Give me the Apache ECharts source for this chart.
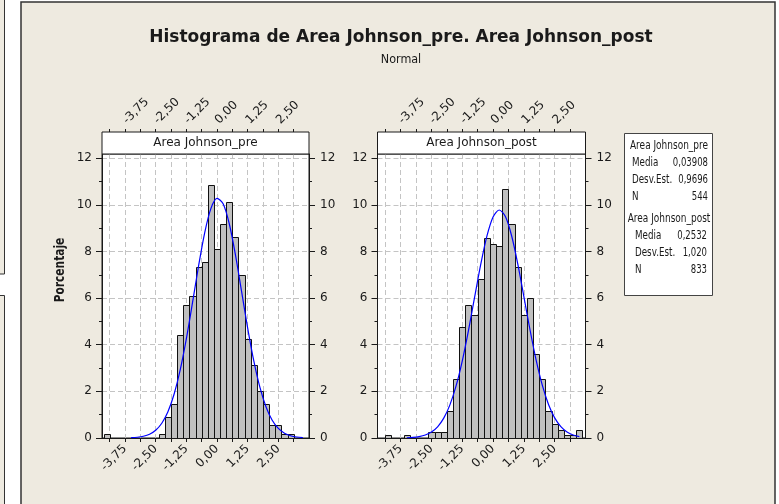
<!DOCTYPE html>
<html><head><meta charset="utf-8">
<script src="https://cdn.jsdelivr.net/npm/echarts@6/dist/echarts.min.js"></script>
<style>html,body{margin:0;padding:0;background:#fff}#c{width:779px;height:504px}</style>
</head><body><div id="c"></div>
<script>
// ---- data ----
const preCenters = [-4.5, -2.25, -2.0, -1.75, -1.5, -1.25, -1.0, -0.75, -0.5, -0.25, 0, 0.25, 0.5, 0.75, 1.0, 1.25, 1.5, 1.75, 2.0, 2.25, 2.5, 2.75, 3.0];
const prePct = [0.18, 0.18, 0.92, 1.47, 4.41, 5.70, 6.07, 7.35, 7.54, 10.85, 8.09, 9.19, 10.11, 8.64, 6.99, 4.23, 3.13, 2.02, 1.47, 0.55, 0.55, 0.18, 0.18];
const postCenters = [-4.25, -3.5, -2.5, -2.25, -2.0, -1.75, -1.5, -1.25, -1.0, -0.75, -0.5, -0.25, 0, 0.25, 0.5, 0.75, 1.0, 1.25, 1.5, 1.75, 2.0, 2.25, 2.5, 2.75, 3.0, 3.25, 3.5];
const postPct = [0.12, 0.12, 0.24, 0.24, 0.24, 1.14, 2.52, 4.74, 5.70, 5.28, 6.84, 8.58, 8.34, 8.22, 10.68, 9.18, 7.32, 5.28, 6.00, 3.60, 2.52, 1.14, 0.60, 0.36, 0.12, 0.12, 0.36];
const curveX = [-3.5, -3.25, -3.0, -2.75, -2.5, -2.25, -2.0, -1.75, -1.5, -1.25, -1.0, -0.75, -0.5, -0.25, 0, 0.25, 0.5, 0.75, 1.0, 1.25, 1.5, 1.75, 2.0, 2.25, 2.5, 2.75, 3.0, 3.25, 3.5];
const preCurve = [0.013, 0.033, 0.076, 0.164, 0.334, 0.634, 1.127, 1.875, 2.918, 4.251, 5.792, 7.387, 8.813, 9.839, 10.278, 10.045, 9.188, 7.862, 6.295, 4.716, 3.306, 2.168, 1.331, 0.764, 0.411, 0.207, 0.097, 0.043, 0.018];
const postCurve = [0.011, 0.027, 0.061, 0.128, 0.256, 0.481, 0.852, 1.421, 2.232, 3.301, 4.597, 6.029, 7.445, 8.657, 9.481, 9.778, 9.495, 8.684, 7.479, 6.065, 4.632, 3.331, 2.257, 1.439, 0.864, 0.489, 0.260, 0.131, 0.062];
const xTickValues = [-4.375, -3.75, -3.125, -2.5, -1.875, -1.25, -0.625, 0, 0.625, 1.25, 1.875, 2.5, 3.125];
const xLabelValues = [-3.75, -2.5, -1.25, 0, 1.25, 2.5];
const yMajorValues = [0, 2, 4, 6, 8, 10, 12];
const yMinorValues = [1, 3, 5, 7, 9, 11];
const panelNames = ['Area Johnson_pre', 'Area Johnson_post'];
const statLabels = ['Media', 'Desv.Est.', 'N'];
const preStats = ['0,03908', '0,9696', '544'];
const postStats = ['0,2532', '1,020', '833'];
const titleText = 'Histograma de Area Johnson_pre. Area Johnson_post';
const subtitleText = 'Normal';
const yName = 'Porcentaje';
const BIN = 0.25;
const XMIN = -4.6875, XMAX = 3.75, YMAX = 12.18;

// ---- layout ----
const FONT = 'DejaVu Sans';
const INK = '#1a1a1a';
const BEIGE = '#EEEAE0';
const grids = [
  {left: 102, top: 154, width: 207, height: 284},
  {left: 377.5, top: 154, width: 208, height: 284}
];
const fmtX = v => Number(v).toFixed(2).replace('.', ',');

const xAxes = [], yAxes = [], series = [];
grids.forEach((g, i) => {
  const labelCommon = {fontFamily: FONT, fontSize: 12, color: INK};
  xAxes.push({
    type: 'value', gridIndex: i, min: XMIN, max: XMAX, position: 'bottom',
    axisLine: {show: true, onZero: false, lineStyle: {color: INK}},
    axisTick: {show: true, customValues: xTickValues, length: 4, lineStyle: {color: INK}},
    axisLabel: Object.assign({customValues: xLabelValues, rotate: 45, margin: 9, formatter: fmtX}, labelCommon),
    splitLine: {show: true, lineStyle: {color: '#c4c4c4', type: [5, 3], width: 1}}
  });
  xAxes.push({
    type: 'value', gridIndex: i, min: XMIN, max: XMAX, position: 'top', offset: 22,
    axisLine: {show: false, onZero: false},
    axisTick: {show: true, customValues: xTickValues, length: 3, lineStyle: {color: INK}},
    axisLabel: Object.assign({customValues: xLabelValues, rotate: -45, margin: 10, formatter: fmtX}, labelCommon),
    splitLine: {show: false}
  });
  ['left', 'right'].forEach((pos, k) => {
    yAxes.push({
      type: 'value', gridIndex: i, min: 0, max: YMAX, interval: 1, position: pos,
      axisLine: {show: true, onZero: false, lineStyle: {color: INK}},
      axisTick: {show: true, customValues: yMajorValues, length: 6, lineStyle: {color: INK}},
      axisLabel: Object.assign({customValues: yMajorValues, margin: k === 0 ? 10 : 11}, labelCommon),
      splitLine: {show: k === 0, lineStyle: {color: '#c4c4c4', type: [5, 3], width: 1}}
    });
    yAxes.push({
      type: 'value', gridIndex: i, min: 0, max: YMAX, interval: 1, position: pos,
      axisLine: {show: false, onZero: false},
      axisTick: {show: true, customValues: yMinorValues, length: 3, lineStyle: {color: INK}},
      axisLabel: {show: false},
      splitLine: {show: false}
    });
  });
});

function barRender(params, api) {
  const c = api.value(0), h = api.value(1);
  const p0 = api.coord([c - BIN / 2, h]);
  const p1 = api.coord([c + BIN / 2, 0]);
  return {
    type: 'rect',
    shape: {x: Math.round(p0[0]) + 0.5, y: Math.round(p0[1]) + 0.5, width: Math.round(p1[0]) - Math.round(p0[0]), height: Math.round(p1[1]) - Math.round(p0[1])},
    style: {fill: '#C0C0C0', stroke: '#111', lineWidth: 1}
  };
}
const sets = [[preCenters, prePct, preCurve], [postCenters, postPct, postCurve]];
sets.forEach((s, i) => {
  series.push({
    type: 'custom', xAxisIndex: 2 * i, yAxisIndex: 4 * i, renderItem: barRender, clip: true,
    data: s[0].map((c, j) => [c, s[1][j]]), z: 2
  });
  series.push({
    type: 'line', xAxisIndex: 2 * i, yAxisIndex: 4 * i, smooth: 0.3, showSymbol: false, symbol: 'none',
    lineStyle: {color: '#0000FF', width: 1.2}, data: curveX.map((x, j) => [x, s[2][j]]), z: 3, animation: false
  });
});

const txt = (x, y, text, size, opts) => Object.assign({
  type: 'text', z: 11, x: x, y: y,
  style: Object.assign({text: text, font: size + 'px "' + FONT + '"', fill: INK, textAlign: 'left', textVerticalAlign: 'middle'}, opts && opts.style)
}, opts && opts.el);

const graphic = [
  {type: 'rect', z: -10, shape: {x: -2, y: -2, width: 6.5, height: 276}, style: {fill: BEIGE, stroke: '#333', lineWidth: 1}},
  {type: 'rect', z: -10, shape: {x: -2, y: 295.5, width: 6.5, height: 220}, style: {fill: BEIGE, stroke: '#333', lineWidth: 1}},
  {type: 'rect', z: -10, shape: {x: 21, y: 2, width: 754, height: 520}, style: {fill: BEIGE, stroke: '#333', lineWidth: 1.5}},
  txt(401, 38, titleText, 17, {style: {font: 'bold 17px "' + FONT + '"', textAlign: 'center'}}),
  txt(401, 60, subtitleText, 13, {style: {textAlign: 'center'}, el: {scaleX: 0.86}}),
  txt(60, 270, yName, 14, {style: {font: 'bold 14px "' + FONT + '"', textAlign: 'center'}, el: {rotation: Math.PI / 2, scaleX: 0.76}})
];
grids.forEach((g, i) => {
  graphic.push({type: 'rect', z: 10, shape: {x: g.left, y: g.top - 22, width: g.width, height: 22}, style: {fill: '#fff', stroke: INK, lineWidth: 1}});
  graphic.push(txt(g.left + g.width / 2, g.top - 11, panelNames[i], 12, {style: {textAlign: 'center'}}));
});
// stats box
const BX = 624.5, BY = 133.5, BW = 88, BH = 162;
graphic.push({type: 'rect', z: 10, shape: {x: BX, y: BY, width: BW, height: BH}, style: {fill: '#fff', stroke: '#444', lineWidth: 1}});
const rowY = [[146, 163, 180, 197], [219, 236, 253, 270]];
[[preStats, 632, 708], [postStats, 635, 707]].forEach((grp, gi) => {
  const ys = rowY[gi];
  graphic.push(txt(BX + BW / 2 + 0.5, ys[0], panelNames[gi], 11.5, {style: {textAlign: 'center'}, el: {scaleX: 0.78}}));
  statLabels.forEach((lab, r) => {
    graphic.push(txt(grp[1], ys[r + 1], lab, 11.5, {el: {scaleX: 0.76}}));
    graphic.push(txt(grp[2], ys[r + 1], grp[0][r], 11.5, {style: {textAlign: 'right'}, el: {scaleX: 0.74}}));
  });
});

const chart = echarts.init(document.getElementById('c'), null, {renderer: 'canvas'});
chart.setOption({
  animation: false,
  backgroundColor: '#fff',
  grid: grids.map(g => Object.assign({show: true, backgroundColor: '#fff', borderColor: INK, borderWidth: 1, containLabel: false}, g)),
  xAxis: xAxes,
  yAxis: yAxes,
  series: series,
  graphic: graphic
});
</script></body></html>
